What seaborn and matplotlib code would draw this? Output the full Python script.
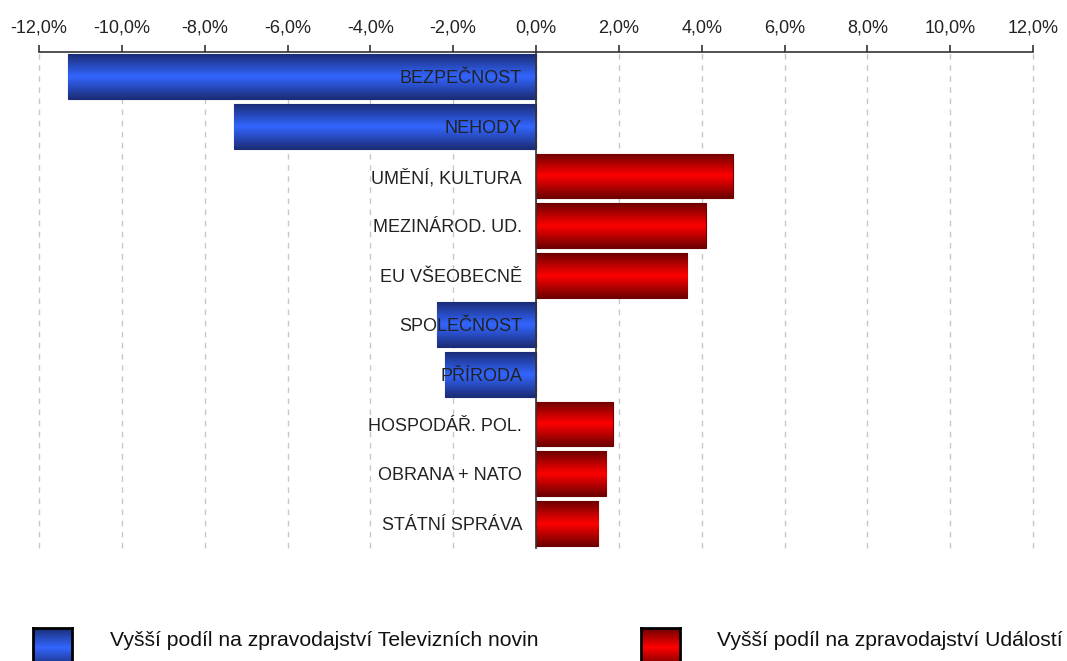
import numpy as np
import matplotlib
matplotlib.use("Agg")
import matplotlib.pyplot as plt
import seaborn as sns
from matplotlib.colors import LinearSegmentedColormap
from matplotlib.ticker import FuncFormatter

# ---- data ----
categories = ["BEZPEČNOST", "NEHODY", "UMĚNÍ, KULTURA", "MEZINÁROD. UD.", "EU VŠEOBECNĚ",
              "SPOLEČNOST", "PŘÍRODA", "HOSPODÁŘ. POL.", "OBRANA + NATO", "STÁTNÍ SPRÁVA"]
values = [-11.3, -7.3, 4.75, 4.1, 3.65, -2.4, -2.2, 1.85, 1.7, 1.5]
groups = ["TN" if v < 0 else "UD" for v in values]
legend_labels = ["Vyšší podíl na zpravodajství Televizních novin",
                 "Vyšší podíl na zpravodajství Událostí"]

# ---- style ----
sns.set_style("white")
plt.rcParams["font.family"] = ["Liberation Sans", "DejaVu Sans"]
plt.rcParams["font.size"] = 13

blue_mid, blue_dark = "#3366ff", "#1b2d78"
red_mid, red_dark = "#ff0000", "#6e0000"
cmap_blue = LinearSegmentedColormap.from_list("b", [blue_dark, blue_mid, blue_dark])
cmap_red = LinearSegmentedColormap.from_list("r", [red_dark, red_mid, red_dark])
grad = np.linspace(0, 1, 64).reshape(-1, 1)

W, H = 1067, 661
fig = plt.figure(figsize=(W / 100, H / 100), dpi=100)
ax = fig.add_axes([39 / W, 1 - 548 / H, (1033 - 39) / W, (548 - 52) / H])

sns.barplot(x=values, y=categories, hue=groups, orient="h", dodge=False, width=0.9,
            palette={"TN": blue_mid, "UD": red_mid}, legend=False, ax=ax, zorder=2)

# gradient fill clipped to each bar
for p in ax.patches:
    x0, y0 = p.get_x(), p.get_y()
    w, h = p.get_width(), p.get_height()
    if w == 0 or np.isnan(w):
        continue
    cm = cmap_blue if w < 0 else cmap_red
    p.set_edgecolor(blue_dark if w < 0 else red_dark)
    p.set_linewidth(0.8)
    im = ax.imshow(grad, cmap=cm, aspect="auto", extent=[x0, x0 + w, y0 + h, y0],
                   zorder=2.1, interpolation="bilinear")
    im.set_clip_path(p)

ax.set_xlim(-12, 12)
ax.set_ylim(9.5, -0.5)

# x axis on top
ax.xaxis.set_ticks_position("top")
ax.set_xticks(np.arange(-12, 13, 2))
ax.xaxis.set_major_formatter(FuncFormatter(lambda v, _: f"{v:.1f}%".replace(".", ",")))
ax.tick_params(axis="x", direction="out", length=5, width=1.2, color="#333333",
               labelsize=13, labelcolor="#222222", pad=6)
ax.grid(axis="x", linestyle=(0, (4, 4)), color="#c8c8c8", linewidth=1)
ax.grid(axis="y", visible=False)
for gl in ax.get_xgridlines():
    gl.set_clip_on(False)

# y axis at zero, category labels drawn on top of the bars
ax.spines["left"].set_position(("data", 0))
ax.spines["left"].set_zorder(3)
for s in ["right", "bottom"]:
    ax.spines[s].set_visible(False)
for s in ["top", "left"]:
    ax.spines[s].set_color("#333333")
    ax.spines[s].set_linewidth(1.2)
ax.set_yticks(np.arange(-0.5, len(categories), 1))
ax.set_yticklabels([])
ax.tick_params(axis="y", direction="out", length=4, width=1.2, color="#333333")
for i, name in enumerate(categories):
    ax.annotate(name, xy=(0, i), xytext=(-10, -1.5), textcoords="offset points",
                ha="right", va="center", fontsize=13, color="#222222", zorder=5)
ax.set_xlabel("")
ax.set_ylabel("")

# legend: gradient squares + text
for (x_sq, x_txt), cm, label in zip([(33, 110), (641, 717)], [cmap_blue, cmap_red], legend_labels):
    lax = fig.add_axes([x_sq / W, 1 - 667 / H, 39 / W, 39 / H])
    lax.imshow(grad, cmap=cm, aspect="auto", interpolation="bilinear")
    lax.set_xticks([])
    lax.set_yticks([])
    for s in lax.spines.values():
        s.set_visible(True)
        s.set_color("black")
        s.set_linewidth(2)
    fig.text(x_txt / W, 1 - 641 / H, label, ha="left", va="center", fontsize=15.2, color="#111111")

fig.savefig("out.png", dpi=100)
